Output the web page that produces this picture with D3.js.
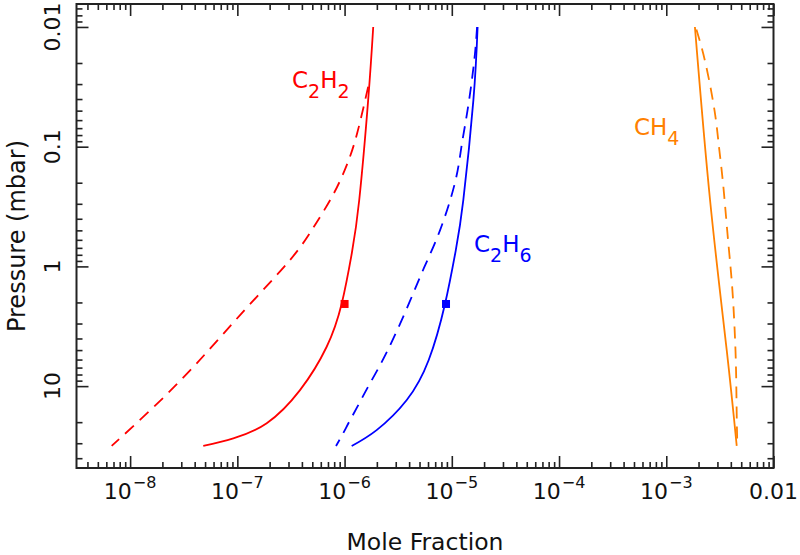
<!DOCTYPE html>
<html>
<head>
<meta charset="utf-8">
<script src="https://cdn.jsdelivr.net/npm/d3@7"></script>
<style>
  html, body { margin: 0; padding: 0; background: #fff; }
  svg { display: block; }
  text { font-family: "DejaVu Sans", sans-serif; fill: #111; }
</style>
</head>
<body>
<svg id="chart" width="800" height="555"></svg>
<script>
// ---------------- data ----------------
// C2H2
const c2h2SolidP = [0.01, 0.0407, 0.279, 0.777, 2.03, 4.69, 10.8, 20.4, 27.3, 31.6];
const c2h2SolidX = [1.85e-6, 1.66e-6, 1.37e-6, 1.168e-6, 9.42e-7, 6.81e-7, 3.84e-7, 1.88e-7, 9.17e-8, 4.81e-8];
const c2h2DashP = [0.0316, 0.0773, 0.142, 0.253, 0.451, 0.884, 2.55, 9.06, 31.6];
const c2h2DashX = [1.66e-6, 1.31e-6, 1.05e-6, 7.80e-7, 5.30e-7, 3.10e-7, 1.06e-7, 2.92e-8, 6.73e-9];
// C2H6
const c2h6SolidP = [0.01, 0.0407, 0.279, 0.730, 2.06, 6.05, 13.06, 23.3, 31.6];
const c2h6SolidX = [1.74e-5, 1.59e-5, 1.28e-5, 1.09e-5, 8.64e-6, 6.09e-6, 3.80e-6, 1.99e-6, 1.165e-6];
const c2h6DashP = [0.01, 0.02, 0.05, 0.1, 0.2, 0.5, 1, 2, 5, 10, 15, 20, 25, 31.6];
const c2h6DashX = [1.72e-5, 1.61e-5, 1.40e-5, 1.23e-5, 1.07e-5, 7.76e-6, 5.58e-6, 4.02e-6, 2.53e-6, 1.67e-6, 1.31e-6, 1.10e-6, 9.65e-7, 8.32e-7];
// CH4
const ch4SolidP = [0.01, 0.279, 4.99, 31.6];
const ch4SolidX = [1.85e-3, 2.56e-3, 3.66e-3, 4.54e-3];
const ch4DashP = [0.0105, 0.02, 0.05, 0.1, 0.2, 0.5, 1, 2, 5, 10, 20, 31.6];
const ch4DashX = [1.91e-3, 2.32e-3, 2.82e-3, 3.10e-3, 3.38e-3, 3.70e-3, 3.97e-3, 4.21e-3, 4.42e-3, 4.50e-3, 4.55e-3, 4.60e-3];
// observation markers
const markerP = [2.06, 2.06];
const markerX = [1.0e-6, 8.83e-6];
const markerColor = ["#ff0000", "#0000ff"];

// axes
const xMajorTicks = [1e-8, 1e-7, 1e-6, 1e-5, 1e-4, 1e-3, 1e-2];
const xTickExp = ["−8", "−7", "−6", "−5", "−4", "−3", null];
const yMajorTicks = [0.01, 0.1, 1, 10];
const yTickLabels = ["0.01", "0.1", "1", "10"];
const xDomain = [Math.pow(10, -8.5), 1e-2];
const yDomain = [0.00643, 48.3];

// ---------------- layout ----------------
const L = 76.5, R = 773.5, T = 4, B = 468;
const svg = d3.select("#chart");

const x = d3.scaleLog().domain(xDomain).range([L, R]);
const y = d3.scaleLog().domain(yDomain).range([T, B]);

function minorTicks(domain) {
  const out = [];
  const lo = Math.floor(Math.log10(domain[0])), hi = Math.ceil(Math.log10(domain[1]));
  for (let e = lo; e <= hi; e++) {
    for (let m = 2; m <= 9; m++) {
      const v = m * Math.pow(10, e);
      if (v >= domain[0] && v <= domain[1]) out.push(v);
    }
  }
  return out;
}
const xMinor = minorTicks(xDomain);
const yMinor = minorTicks(yDomain);

function drawAxis(gen, scale, values, size, transform) {
  const g = svg.append("g").attr("transform", transform)
    .call(gen(scale).tickValues(values).tickSize(-size).tickFormat(""));
  g.select(".domain").remove();
  g.selectAll(".tick line").attr("stroke", "#222").attr("stroke-width", 1.6);
}
// bottom / top
drawAxis(d3.axisBottom, x, xMinor, 6, `translate(0,${B})`);
drawAxis(d3.axisBottom, x, xMajorTicks, 12, `translate(0,${B})`);
drawAxis(d3.axisTop, x, xMinor, 6, `translate(0,${T})`);
drawAxis(d3.axisTop, x, xMajorTicks, 12, `translate(0,${T})`);
// left / right
drawAxis(d3.axisLeft, y, yMinor, 6, `translate(${L},0)`);
drawAxis(d3.axisLeft, y, yMajorTicks, 12, `translate(${L},0)`);
drawAxis(d3.axisRight, y, yMinor, 6, `translate(${R},0)`);
drawAxis(d3.axisRight, y, yMajorTicks, 12, `translate(${R},0)`);

// frame
svg.append("rect")
  .attr("x", L).attr("y", T).attr("width", R - L).attr("height", B - T)
  .attr("fill", "none").attr("stroke", "#222").attr("stroke-width", 2);

// x tick labels
xMajorTicks.forEach((v, i) => {
  const t = svg.append("text")
    .attr("x", x(v)).attr("y", 499)
    .attr("text-anchor", "middle")
    .attr("font-size", 22);
  if (xTickExp[i] === null) {
    t.text("0.01");
  } else {
    t.append("tspan").text("10");
    t.append("tspan").attr("font-size", 16).attr("dy", -11).attr("dx", 1).text(xTickExp[i]);
  }
});

// y tick labels (rotated)
yMajorTicks.forEach((v, i) => {
  svg.append("text")
    .attr("transform", `translate(60,${y(v)}) rotate(-90)`)
    .attr("text-anchor", "middle")
    .attr("font-size", 22)
    .text(yTickLabels[i]);
});

// axis titles
svg.append("text")
  .attr("x", (L + R) / 2).attr("y", 550)
  .attr("text-anchor", "middle")
  .attr("font-size", 23.5)
  .text("Mole Fraction");
svg.append("text")
  .attr("transform", `translate(25,${(T + B) / 2}) rotate(-90)`)
  .attr("text-anchor", "middle")
  .attr("font-size", 24)
  .text("Pressure (mbar)");

// curves
svg.append("clipPath").attr("id", "plotclip")
  .append("rect").attr("x", L).attr("y", T).attr("width", R - L).attr("height", B - T);

const line = d3.line().x(d => x(d[0])).y(d => y(d[1])).curve(d3.curveNatural);
const series = [
  { xs: c2h2SolidX, ps: c2h2SolidP, color: "#ff0000", dash: null },
  { xs: c2h2DashX, ps: c2h2DashP, color: "#ff0000", dash: "12,8" },
  { xs: c2h6SolidX, ps: c2h6SolidP, color: "#0000ff", dash: null },
  { xs: c2h6DashX, ps: c2h6DashP, color: "#0000ff", dash: "12,8" },
  { xs: ch4SolidX, ps: ch4SolidP, color: "#ff8000", dash: null },
  { xs: ch4DashX, ps: ch4DashP, color: "#ff8000", dash: "12,8" }
];
series.forEach(s => {
  svg.append("path")
    .datum(s.xs.map((v, i) => [v, s.ps[i]]))
    .attr("d", line)
    .attr("fill", "none")
    .attr("stroke", s.color)
    .attr("stroke-width", 1.8)
    .attr("stroke-dasharray", s.dash)
    .attr("clip-path", "url(#plotclip)");
});

// markers
svg.selectAll("rect.marker")
  .data(markerX.map((v, i) => ({ x: v, p: markerP[i], c: markerColor[i] })))
  .join("rect")
  .attr("class", "marker")
  .attr("x", d => x(d.x) - 4).attr("y", d => y(d.p) - 4)
  .attr("width", 8).attr("height", 8)
  .attr("fill", d => d.c);

// species labels
function species(xp, yp, color, parts) {
  const t = svg.append("text").attr("x", xp).attr("y", yp)
    .style("fill", color).attr("font-size", 23);
  let sub = false;
  parts.forEach(p => {
    const ts = t.append("tspan").text(p.t);
    if (p.sub && !sub) { ts.attr("dy", 10).attr("font-size", 19); sub = true; }
    else if (p.sub && sub) { ts.attr("font-size", 19); }
    else if (!p.sub && sub) { ts.attr("dy", -10); sub = false; }
  });
}
species(292, 88, "#ff0000", [{ t: "C" }, { t: "2", sub: true }, { t: "H" }, { t: "2", sub: true }]);
species(474, 252, "#0000ff", [{ t: "C" }, { t: "2", sub: true }, { t: "H" }, { t: "6", sub: true }]);
species(634, 135, "#ff8000", [{ t: "CH" }, { t: "4", sub: true }]);
</script>
</body>
</html>
